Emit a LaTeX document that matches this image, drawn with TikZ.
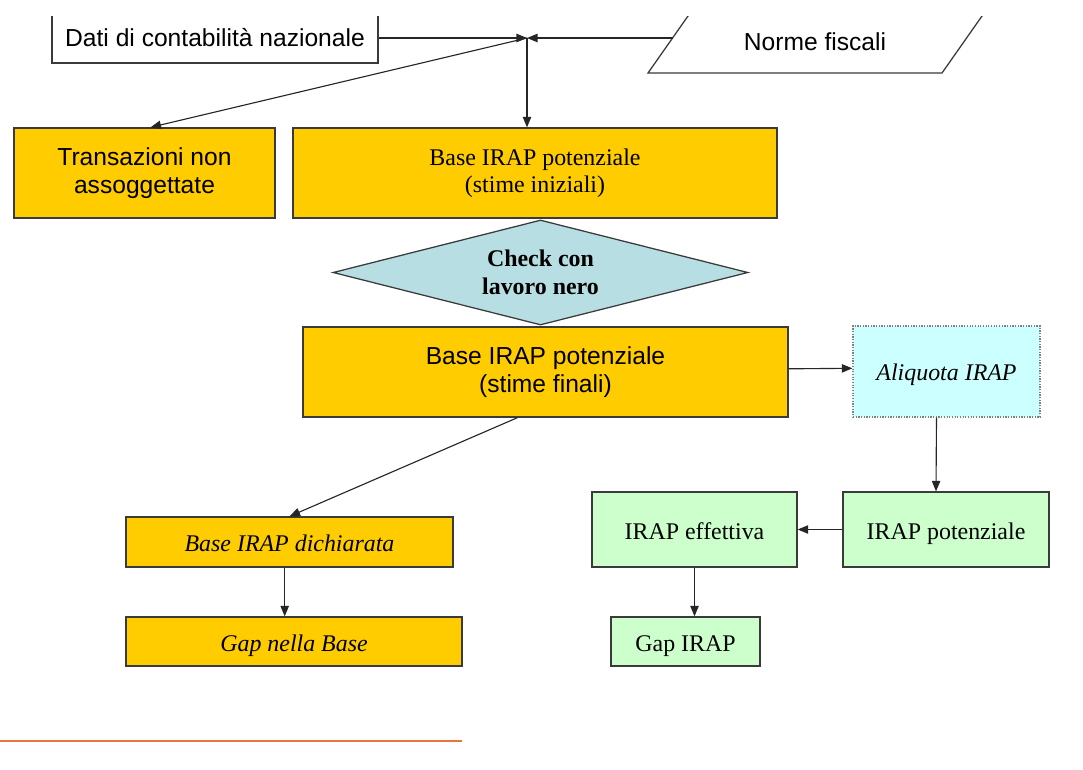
\documentclass[tikz,border=0pt]{standalone}
\usepackage{fontspec}
\setmainfont{Liberation Serif}
\setsansfont{Liberation Sans}
\usetikzlibrary{positioning,arrows.meta,shapes.geometric}

\definecolor{irapyellow}{HTML}{FFCC00}
\definecolor{checkblue}{HTML}{B7DFE3}
\definecolor{ratecyan}{HTML}{CCFFFF}
\definecolor{irapgreen}{HTML}{CCFFCC}
\definecolor{edgegray}{HTML}{3A3A3A}
\definecolor{ruleorange}{HTML}{E8763A}

\begin{document}
\begin{tikzpicture}[
    x=0.025cm, y=-0.025cm,
    box/.style={rectangle, draw=edgegray, line width=0.9pt, inner sep=2pt, align=center},
    ybox/.style={box, fill=irapyellow},
    gbox/.style={box, fill=irapgreen},
    sanstext/.style={font=\fontsize{17.5}{19.5}\selectfont\sffamily},
    seriftext/.style={font=\fontsize{17}{19.5}\selectfont, text height=17pt, text depth=3.5pt},
    checkbox/.style={diamond, draw=edgegray, line width=0.9pt, fill=checkblue, aspect=4, inner sep=0pt, align=center, font=\fontsize{17}{19.5}\selectfont\bfseries},
    ratebox/.style={box, draw=gray, densely dotted, fill=ratecyan},
    arrow/.style={-{Triangle[length=7.5pt,width=6pt]}, line width=0.8pt, draw=black!85},
  ]
  \useasboundingbox (0,0) rectangle (1083,769);
  \clip (0,16) rectangle (1083,769);

  % Inputs
  \node[box, sanstext, minimum width=8.15cm, minimum height=1.25cm] (dati) at (215,38) {Dati di contabilità nazionale};
  \draw[edgegray, line width=0.9pt] (691.5,11) -- (648,73) -- (942,73) -- (985.5,11);
  \node[sanstext] (norme) at (815,42) {Norme fiscali};
  \coordinate (normeW) at (672.6,38);
  \coordinate (hub) at (527,38);

  % Potential base
  \node[ybox, sanstext, minimum width=6.525cm, minimum height=2.25cm] (trans) at (144.5,173) {Transazioni non\\assoggettate};
  \node[ybox, font=\fontsize{17}{19.5}\selectfont, minimum width=12.1cm, minimum height=2.25cm] (base1) at (535,173) {Base IRAP potenziale\\(stime iniziali)};
  \node[checkbox, minimum width=10.375cm, minimum height=2.625cm] (check) at (540.5,272.5) {Check con\\lavoro nero};
  \node[ybox, sanstext, minimum width=12.125cm, minimum height=2.25cm] (base2) at (545.5,372) {Base IRAP potenziale\\(stime finali)};

  % Tax side
  \node[ratebox, seriftext, minimum width=4.675cm, minimum height=2.275cm] (aliq) at (946.5,371.5) {\itshape Aliquota IRAP};
  \node[gbox, seriftext, minimum width=5.15cm, minimum height=1.875cm] (irappot) at (946,529.5) {IRAP potenziale};
  \node[gbox, seriftext, minimum width=5.125cm, minimum height=1.875cm] (irapeff) at (694.5,529.5) {IRAP effettiva};
  \node[gbox, seriftext, minimum width=3.725cm, minimum height=1.225cm] (gapirap) at (685.5,641.5) {Gap IRAP};

  % Declared base
  \node[ybox, seriftext, minimum width=8.175cm, minimum height=1.25cm] (dich) at (289.5,542) {\itshape Base IRAP dichiarata};
  \node[ybox, seriftext, minimum width=8.4cm, minimum height=1.225cm] (gapbase) at (294,641.5) {\itshape Gap nella Base};

  % Arrows
  \draw[arrow] (dati.east) -- (hub);
  \draw[arrow] (normeW) -- (hub);
  \draw[arrow] (hub) -- (hub |- base1.north);
  \draw[arrow] (hub) -- ([xshift=0.15cm]trans.north);
  \draw[arrow] ([yshift=0.08cm]base2.east) -- ([yshift=0.08cm]aliq.west);
  \draw[arrow] ([xshift=-0.25cm]aliq.south) -- ([xshift=-0.25cm]irappot.north);
  \draw[arrow] (irappot.west) -- (irapeff.east);
  \draw[arrow] (irapeff.south) -- (irapeff.south |- gapirap.north);
  \draw[arrow] ([xshift=-0.7cm]base2.south) -- (dich.north);
  \draw[arrow] ([xshift=-0.12cm]dich.south) -- ([xshift=-0.12cm]dich.south |- gapbase.north);

  % Footer rule
  \draw[ruleorange, line width=1.6pt] (0,741) -- (462,741);
\end{tikzpicture}
\end{document}
